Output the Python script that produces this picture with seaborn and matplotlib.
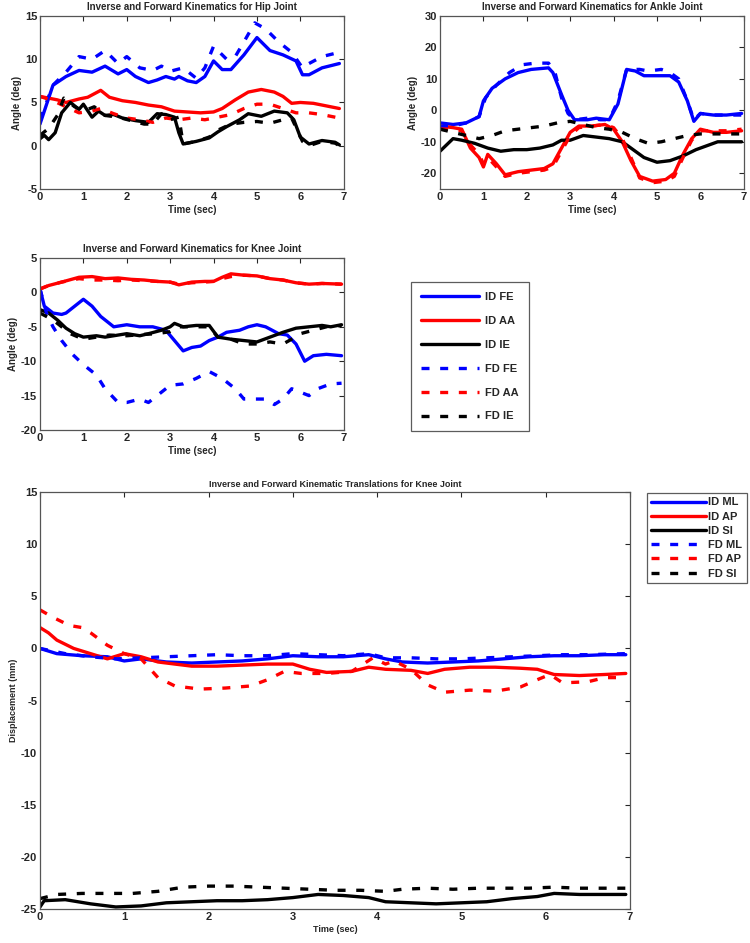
"""
Inverse vs forward kinematics of hip, ankle and knee joints
"""

import matplotlib
matplotlib.use('Agg')
import matplotlib.pyplot as plt
from matplotlib.lines import Line2D
import seaborn as sns


# Hip joint angles (deg)
hip_id_fe_t = [0.0, 0.3, 0.6, 0.9, 1.2, 1.5, 1.8, 2.0, 2.2, 2.5, 2.7, 2.9, 3.1, 3.2, 3.4, 3.6, 3.8, 4.0, 4.2, 4.4,
               4.7, 5.0, 5.3, 5.6, 5.9, 6.05, 6.2, 6.5, 6.9]
hip_id_fe = [2.5, 7.0, 8.0, 8.7, 8.5, 9.2, 8.3, 8.8, 8.0, 7.3, 7.6, 8.0, 7.7, 8.0, 7.5, 7.3, 8.0, 9.8, 8.8, 8.8,
             10.5, 12.5, 11.0, 10.5, 9.8, 8.2, 8.2, 9.0, 9.5]
hip_fd_fe_t = [0.0, 0.3, 0.6, 0.9, 1.2, 1.5, 1.8, 2.0, 2.3, 2.6, 2.8, 3.0, 3.3, 3.6, 3.8, 4.0, 4.3, 4.5, 4.7, 4.95,
               5.2, 5.5, 5.8, 6.05, 6.2, 6.5, 6.9]
hip_fd_fe = [3.0, 7.0, 8.5, 10.3, 10.0, 11.0, 9.5, 10.3, 9.0, 8.7, 9.2, 8.6, 9.0, 7.8, 9.0, 11.5, 10.0, 10.3, 12.0, 14.2,
             13.5, 12.0, 10.8, 9.0, 9.5, 10.3, 10.8]
hip_id_aa_t = [0.0, 0.2, 0.4, 0.6, 0.9, 1.1, 1.4, 1.6, 1.9, 2.2, 2.5, 2.8, 3.1, 3.4, 3.7, 4.0, 4.2, 4.5, 4.8, 5.1,
               5.4, 5.6, 5.8, 6.0, 6.3, 6.6, 6.9]
hip_id_aa = [5.7, 5.5, 5.3, 5.0, 5.4, 5.6, 6.4, 5.6, 5.2, 5.0, 4.7, 4.5, 4.0, 3.9, 3.8, 3.9, 4.3, 5.3, 6.2, 6.5,
             6.2, 5.7, 4.9, 5.0, 4.9, 4.6, 4.3]
hip_fd_aa_t = [0.0, 0.3, 0.6, 0.9, 1.2, 1.4, 1.7, 2.0, 2.3, 2.6, 2.9, 3.2, 3.5, 3.8, 4.1, 4.4, 4.7, 5.0, 5.3, 5.6,
               5.9, 6.2, 6.5, 6.9]
hip_fd_aa = [5.7, 5.2, 4.5, 3.8, 4.0, 4.3, 3.7, 3.2, 3.0, 2.7, 3.2, 3.0, 3.2, 3.0, 3.3, 3.6, 4.3, 4.8, 4.8, 4.3,
             3.8, 3.8, 3.6, 3.2]
hip_id_ie_t = [0.0, 0.1, 0.2, 0.35, 0.5, 0.7, 0.9, 1.0, 1.2, 1.35, 1.5, 1.7, 1.9, 2.2, 2.5, 2.7, 2.9, 3.1, 3.2, 3.3,
               3.6, 3.9, 4.1, 4.3, 4.6, 4.8, 5.1, 5.4, 5.7, 5.85, 6.0, 6.2, 6.5, 6.8, 6.9]
hip_id_ie = [0.8, 1.2, 0.7, 1.5, 3.8, 5.0, 4.2, 4.8, 3.3, 4.0, 3.5, 3.6, 3.2, 2.9, 2.7, 3.7, 3.6, 3.3, 1.5, 0.2,
             0.5, 0.9, 1.6, 2.2, 3.0, 3.7, 3.4, 4.0, 3.8, 3.0, 1.0, 0.2, 0.6, 0.4, 0.1]
hip_fd_ie_t = [0.0, 0.2, 0.4, 0.55, 0.8, 1.0, 1.25, 1.5, 1.8, 2.1, 2.4, 2.6, 2.8, 3.0, 3.2, 3.3, 3.6, 3.9, 4.1, 4.4,
               4.7, 5.0, 5.3, 5.6, 5.8, 6.05, 6.2, 6.5, 6.8, 6.9]
hip_fd_ie = [1.2, 2.0, 3.5, 5.5, 4.5, 4.0, 4.5, 3.5, 3.3, 2.9, 2.5, 2.5, 3.7, 3.0, 3.3, 0.2, 0.5, 1.0, 1.8, 2.5,
             2.7, 2.8, 2.6, 3.0, 3.2, 0.5, 0.0, 0.5, 0.3, 0.0]

# Ankle joint angles (deg)
ank_id_fe_t = [0.0, 0.3, 0.6, 0.9, 1.0, 1.2, 1.5, 1.8, 2.1, 2.5, 2.6, 2.8, 2.95, 3.1, 3.4, 3.6, 3.9, 4.1, 4.3, 4.5,
               4.7, 5.0, 5.3, 5.5, 5.7, 5.85, 6.0, 6.3, 6.6, 6.95]
ank_id_fe = [-4.0, -4.5, -4.0, -2.0, 3.0, 7.0, 10.0, 12.0, 13.0, 13.5, 12.0, 5.0, 0.0, -3.0, -3.0, -2.5, -3.0, 2.0,
             13.0, 12.5, 11.0, 11.0, 11.0, 9.0, 3.0, -3.5, -1.0, -1.5, -1.5, -1.0]
ank_fd_fe_t = [0.0, 0.3, 0.6, 0.9, 1.05, 1.3, 1.6, 1.9, 2.2, 2.5, 2.65, 2.8, 2.95, 3.1, 3.4, 3.7, 3.9, 4.1, 4.3, 4.6,
               4.8, 5.1, 5.3, 5.5, 5.7, 5.85, 6.0, 6.3, 6.6, 6.95]
ank_fd_fe = [-5.0, -5.0, -4.0, -2.0, 4.0, 8.0, 12.0, 14.5, 15.0, 15.0, 12.0, 4.0, -1.0, -3.0, -2.5, -3.0, -3.0, 3.0,
             13.0, 13.0, 12.5, 13.0, 12.0, 10.0, 3.0, -3.0, -1.0, -1.5, -1.5, -1.5]
ank_aa_t = [0.0, 0.3, 0.5, 0.7, 0.9, 1.0, 1.1, 1.3, 1.5, 1.8, 2.1, 2.4, 2.6, 2.8, 3.0, 3.2, 3.5, 3.8, 4.0, 4.2,
            4.4, 4.6, 4.9, 5.2, 5.4, 5.6, 5.8, 6.0, 6.3, 6.6, 6.95]
ank_id_aa = [-5.0, -5.5, -6.0, -12.0, -15.0, -18.0, -14.0, -17.0, -20.5, -19.5, -19.0, -18.5, -17.0, -12.0, -7.0,
             -5.0, -5.0, -4.5, -6.0, -10.0, -16.0, -21.0, -22.5, -22.0, -20.0, -14.0, -9.0, -6.0, -7.0, -7.0, -6.5]
ank_fd_aa = [-6.0, -6.0, -6.5, -11.0, -14.0, -17.0, -15.0, -18.0, -21.0, -20.0, -19.5, -19.0, -18.0, -13.0, -8.0,
             -5.5, -5.0, -4.5, -5.5, -9.0, -15.0, -21.5, -23.0, -22.5, -21.0, -15.0, -9.5, -6.5, -6.5, -6.5, -6.0]
ank_id_ie_t = [0.0, 0.3, 0.5, 0.8, 1.1, 1.4, 1.7, 2.0, 2.3, 2.6, 2.8, 3.0, 3.3, 3.6, 3.9, 4.2, 4.5, 4.7, 5.0, 5.3,
               5.6, 5.9, 6.1, 6.4, 6.95]
ank_id_ie = [-13.0, -9.0, -9.5, -10.5, -12.0, -13.0, -12.5, -12.5, -12.0, -11.0, -9.5, -9.5, -8.0, -8.5, -9.0,
             -10.0, -13.0, -15.0, -16.5, -16.0, -14.5, -12.5, -11.5, -10.0, -10.0]
ank_fd_ie_t = [0.0, 0.3, 0.6, 0.9, 1.2, 1.5, 1.8, 2.1, 2.4, 2.7, 3.0, 3.3, 3.6, 3.9, 4.2, 4.5, 4.8, 5.1, 5.4, 5.7,
               6.0, 6.3, 6.6, 6.95]
ank_fd_ie = [-6.0, -7.0, -8.0, -9.0, -8.0, -6.5, -6.0, -5.5, -5.0, -4.0, -3.5, -4.5, -5.5, -6.0, -7.0, -9.0, -10.5,
             -10.0, -9.0, -8.0, -7.5, -7.5, -7.5, -7.5]

# Knee joint angles (deg)
knee_id_fe_t = [0.0, 0.1, 0.3, 0.5, 0.6, 0.8, 1.0, 1.2, 1.4, 1.7, 2.0, 2.3, 2.6, 2.9, 3.1, 3.3, 3.5, 3.7, 3.9, 4.1,
                4.3, 4.6, 4.8, 5.0, 5.2, 5.5, 5.7, 5.9, 6.1, 6.3, 6.6, 6.95]
knee_id_fe = [0.5, -2.0, -3.0, -3.2, -3.0, -2.0, -1.0, -2.0, -3.5, -5.0, -4.7, -5.0, -5.0, -5.5, -7.0, -8.5, -8.0,
              -7.8, -7.0, -6.5, -5.8, -5.5, -5.0, -4.7, -5.0, -6.0, -6.2, -7.5, -10.0, -9.2, -9.0, -9.2]
knee_fd_fe_t = [0.0, 0.15, 0.3, 0.5, 0.75, 1.0, 1.3, 1.5, 1.8, 2.0, 2.3, 2.5, 2.8, 3.0, 3.3, 3.6, 3.9, 4.2, 4.5, 4.7,
                5.0, 5.2, 5.4, 5.6, 5.8, 6.0, 6.2, 6.4, 6.7, 6.95]
knee_fd_fe = [0.5, -3.0, -5.0, -7.0, -9.0, -10.5, -12.0, -14.0, -16.0, -16.0, -15.5, -16.0, -14.5, -13.5, -13.3,
              -12.5, -11.5, -12.5, -14.0, -15.5, -15.5, -15.5, -16.3, -15.5, -14.0, -14.5, -15.0, -14.0, -13.3, -13.2]
knee_aa_t = [0.0, 0.2, 0.5, 0.9, 1.2, 1.5, 1.8, 2.1, 2.4, 2.7, 3.0, 3.2, 3.5, 3.8, 4.0, 4.2, 4.4, 4.7, 5.0, 5.3,
             5.6, 5.9, 6.2, 6.5, 6.95]
knee_id_aa = [0.5, 1.0, 1.5, 2.2, 2.3, 2.0, 2.1, 1.9, 1.8, 1.6, 1.5, 1.1, 1.5, 1.6, 1.6, 2.2, 2.7, 2.5, 2.4, 2.0,
              1.8, 1.4, 1.2, 1.3, 1.2]
knee_fd_aa = [0.5, 1.0, 1.5, 2.0, 1.8, 1.8, 1.7, 1.8, 1.7, 1.6, 1.5, 1.2, 1.4, 1.5, 1.6, 2.0, 2.3, 2.5, 2.4, 2.0,
              1.8, 1.4, 1.2, 1.3, 1.2]
knee_id_ie_t = [0.0, 0.2, 0.4, 0.6, 0.8, 1.0, 1.3, 1.5, 1.8, 2.0, 2.3, 2.5, 2.8, 3.0, 3.1, 3.3, 3.6, 3.9, 4.1, 4.4,
                4.7, 5.0, 5.3, 5.6, 5.9, 6.2, 6.5, 6.7, 6.95]
knee_id_ie = [-2.5, -3.0, -4.0, -5.2, -6.0, -6.5, -6.3, -6.5, -6.2, -6.0, -6.3, -6.0, -5.5, -5.0, -4.5, -5.0, -4.8,
              -4.8, -6.5, -6.8, -7.0, -7.2, -6.5, -5.8, -5.2, -5.0, -4.8, -5.0, -4.7]
knee_fd_ie_t = [0.0, 0.3, 0.5, 0.7, 1.0, 1.3, 1.6, 2.0, 2.4, 2.7, 3.0, 3.2, 3.6, 3.9, 4.1, 4.4, 4.7, 5.0, 5.3, 5.6,
                5.8, 6.0, 6.3, 6.6, 6.95]
knee_fd_ie = [-3.0, -4.0, -5.0, -6.0, -6.8, -6.5, -6.2, -6.3, -6.1, -6.0, -5.7, -5.0, -5.0, -5.0, -6.5, -6.8, -7.5,
              -7.5, -7.2, -7.5, -6.8, -6.0, -5.5, -5.0, -4.8]

# Knee translations (mm)
tr_id_ml_t = [0.0, 0.2, 0.5, 0.8, 1.0, 1.2, 1.5, 1.8, 2.1, 2.4, 2.7, 3.0, 3.3, 3.6, 3.9, 4.1, 4.3, 4.6, 4.9, 5.2,
              5.5, 5.8, 6.1, 6.4, 6.7, 6.95]
tr_id_ml = [0.0, -0.5, -0.7, -0.8, -1.2, -1.0, -1.3, -1.4, -1.3, -1.2, -1.0, -0.7, -0.8, -0.8, -0.6, -1.0, -1.3,
            -1.4, -1.3, -1.2, -1.0, -0.8, -0.7, -0.7, -0.6, -0.6]
tr_fd_ml_t = [0.0, 0.3, 0.6, 0.9, 1.2, 1.5, 1.8, 2.1, 2.4, 2.7, 3.0, 3.3, 3.6, 3.9, 4.1, 4.4, 4.7, 5.0, 5.3, 5.6,
              5.9, 6.2, 6.5, 6.95]
tr_fd_ml = [0.0, -0.5, -0.8, -1.0, -0.9, -0.8, -0.7, -0.6, -0.7, -0.7, -0.5, -0.6, -0.7, -0.5, -0.9, -0.9, -1.0,
            -1.0, -0.9, -0.8, -0.7, -0.6, -0.6, -0.5]
tr_id_ap_t = [0.0, 0.1, 0.2, 0.4, 0.6, 0.8, 1.0, 1.2, 1.4, 1.6, 1.8, 2.1, 2.4, 2.7, 3.0, 3.2, 3.4, 3.7, 3.9, 4.1,
              4.4, 4.6, 4.8, 5.1, 5.4, 5.7, 5.9, 6.1, 6.4, 6.7, 6.95]
tr_id_ap = [2.0, 1.5, 0.8, 0.0, -0.5, -1.0, -0.5, -0.8, -1.3, -1.5, -1.7, -1.7, -1.6, -1.5, -1.5, -2.0, -2.3, -2.2,
            -1.8, -2.0, -2.1, -2.4, -2.0, -1.8, -1.8, -1.9, -2.0, -2.5, -2.6, -2.5, -2.4]
tr_fd_ap_t = [0.0, 0.15, 0.35, 0.5, 0.6, 0.8, 1.0, 1.2, 1.4, 1.6, 1.9, 2.2, 2.5, 2.7, 2.9, 3.1, 3.4, 3.7, 3.95, 4.1,
              4.2, 4.4, 4.6, 4.8, 5.1, 5.4, 5.7, 5.9, 6.05, 6.2, 6.5, 6.7, 6.95]
tr_fd_ap = [3.7, 3.0, 2.2, 2.0, 1.5, 0.3, -0.5, -1.0, -2.8, -3.6, -3.9, -3.8, -3.6, -3.0, -2.2, -2.4, -2.4, -2.2,
            -0.9, -1.5, -1.2, -2.0, -3.5, -4.2, -4.0, -4.1, -3.7, -3.0, -2.5, -3.3, -3.2, -2.8, -2.8]
tr_id_si_t = [0.0, 0.05, 0.3, 0.6, 0.9, 1.2, 1.5, 1.8, 2.1, 2.4, 2.7, 3.0, 3.3, 3.6, 3.9, 4.1, 4.4, 4.7, 5.0, 5.3,
              5.6, 5.9, 6.1, 6.4, 6.95]
tr_id_si = [-24.8, -24.2, -24.1, -24.5, -24.8, -24.7, -24.4, -24.3, -24.2, -24.2, -24.1, -23.9, -23.6, -23.7, -23.9,
            -24.3, -24.4, -24.5, -24.4, -24.3, -24.0, -23.8, -23.5, -23.6, -23.6]
tr_fd_si_t = [0.0, 0.2, 0.5, 0.8, 1.1, 1.4, 1.7, 2.0, 2.3, 2.6, 2.9, 3.2, 3.5, 3.8, 4.1, 4.3, 4.6, 4.9, 5.2, 5.5,
              5.8, 6.1, 6.4, 6.95]
tr_fd_si = [-24.0, -23.6, -23.5, -23.5, -23.5, -23.3, -22.9, -22.8, -22.8, -22.9, -23.0, -23.1, -23.2, -23.2, -23.3,
            -23.1, -23.0, -23.1, -23.0, -23.0, -23.0, -22.9, -23.0, -23.0]

angle_labels = ['ID FE', 'ID AA', 'ID IE', 'FD FE', 'FD AA', 'FD IE']
trans_labels = ['ID ML', 'ID AP', 'ID SI', 'FD ML', 'FD AP', 'FD SI']

# General plot parameters
colors = ['blue', 'red', 'black']
lw = 2.4
dash = (0, (2.4, 3.2))
bold = {'fontweight': 'bold'}


def style_axes(ax, title, ylabel, ylim, yticks, fs=7):
    """
    MATLAB-like box with inward ticks on all sides
    """
    ax.set_xlim(0, 7)
    ax.set_ylim(*ylim)
    ax.set_xticks(range(8))
    ax.set_yticks(yticks)
    ax.tick_params(direction='in', top=True, right=True, length=3.5, width=0.8, labelsize=8, pad=2)
    for lab in ax.get_xticklabels() + ax.get_yticklabels():
        lab.set_fontweight('bold')
    for sp in ax.spines.values():
        sp.set_color('#555555')
        sp.set_linewidth(0.9)
    ax.set_title(title, fontsize=fs, pad=4, **bold)
    ax.set_xlabel('Time (sec)', fontsize=fs, labelpad=2, **bold)
    ax.set_ylabel(ylabel, fontsize=fs, labelpad=2, **bold)


def plot_set(ax, series):
    """
    series: list of (t, y) pairs ordered ID x3 then FD x3
    """
    for i, (t, y) in enumerate(series):
        ls = '-' if i < 3 else dash
        sns.lineplot(x=t, y=y, color=colors[i % 3], linestyle=ls, linewidth=lw,
                     estimator=None, sort=False, ax=ax)


def make_handles():
    hs = []
    for i in range(6):
        ls = '-' if i < 3 else dash
        hs.append(Line2D([], [], color=colors[i % 3], linestyle=ls, linewidth=lw))
    return hs


def main():
    sns.set_style('white')
    plt.rcParams['font.family'] = ['Liberation Sans', 'DejaVu Sans']
    plt.rcParams['axes.unicode_minus'] = False

    fig = plt.figure(figsize=(7.5, 9.43), dpi=100)

    # Hip
    ax1 = fig.add_axes([0.0533, 0.7996, 0.405, 0.1835])
    plot_set(ax1, [(hip_id_fe_t, hip_id_fe), (hip_id_aa_t, hip_id_aa), (hip_id_ie_t, hip_id_ie),
                   (hip_fd_fe_t, hip_fd_fe), (hip_fd_aa_t, hip_fd_aa), (hip_fd_ie_t, hip_fd_ie)])
    style_axes(ax1, 'Inverse and Forward Kinematics for Hip Joint', 'Angle (deg)', (-5, 15), range(-5, 16, 5))

    # Ankle
    ax2 = fig.add_axes([0.5867, 0.7996, 0.405, 0.1835])
    plot_set(ax2, [(ank_id_fe_t, ank_id_fe), (ank_aa_t, ank_id_aa), (ank_id_ie_t, ank_id_ie),
                   (ank_fd_fe_t, ank_fd_fe), (ank_aa_t, ank_fd_aa), (ank_fd_ie_t, ank_fd_ie)])
    style_axes(ax2, 'Inverse and Forward Kinematics for Ankle Joint', 'Angle (deg)', (-25, 30), range(-20, 31, 10))

    # Knee
    ax3 = fig.add_axes([0.0533, 0.544, 0.405, 0.1824])
    plot_set(ax3, [(knee_id_fe_t, knee_id_fe), (knee_aa_t, knee_id_aa), (knee_id_ie_t, knee_id_ie),
                   (knee_fd_fe_t, knee_fd_fe), (knee_aa_t, knee_fd_aa), (knee_fd_ie_t, knee_fd_ie)])
    style_axes(ax3, 'Inverse and Forward Kinematics for Knee Joint', 'Angle (deg)', (-20, 5), range(-20, 6, 5))

    leg1 = fig.legend(make_handles(), angle_labels, loc='upper left', bbox_to_anchor=(0.548, 0.701),
                      borderaxespad=0, frameon=True, fancybox=False, edgecolor='#333333',
                      handlelength=5.2, handletextpad=0.6, labelspacing=1.25, borderpad=0.9,
                      prop={'size': 8, 'weight': 'bold'})
    leg1.get_frame().set_linewidth(0.9)

    # Translations
    ax4 = fig.add_axes([0.0533, 0.036, 0.7867, 0.4422])
    plot_set(ax4, [(tr_id_ml_t, tr_id_ml), (tr_id_ap_t, tr_id_ap), (tr_id_si_t, tr_id_si),
                   (tr_fd_ml_t, tr_fd_ml), (tr_fd_ap_t, tr_fd_ap), (tr_fd_si_t, tr_fd_si)])
    style_axes(ax4, 'Inverse and Forward Kinematic Translations for Knee Joint', 'Displacement (mm)',
               (-25, 15), range(-25, 16, 5), fs=6.5)

    leg2 = fig.legend(make_handles(), trans_labels, loc='upper left', bbox_to_anchor=(0.8627, 0.4772),
                      borderaxespad=0, frameon=True, fancybox=False, edgecolor='#333333',
                      handlelength=4.9, handletextpad=0.2, labelspacing=0.38, borderpad=0.4,
                      prop={'size': 8, 'weight': 'bold'})
    leg2.get_frame().set_linewidth(0.9)

    fig.savefig('out.png', dpi=100, facecolor='white')
    plt.close(fig)


if __name__ == '__main__':
    main()
